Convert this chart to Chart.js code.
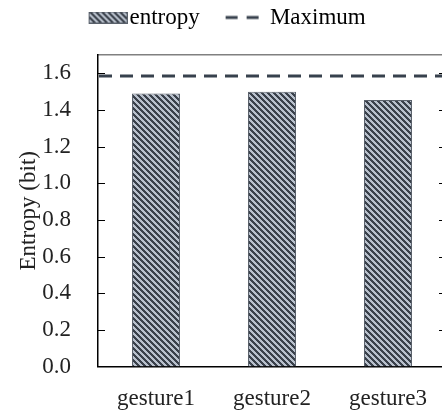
<!DOCTYPE html>
<html>
<head>
<meta charset="utf-8">
<script src="https://cdn.jsdelivr.net/npm/chart.js@4"></script>
<style>
  html, body { margin: 0; padding: 0; background: #fff; overflow: hidden; }
</style>
</head>
<body>
<canvas id="entropyChart" width="460" height="412"></canvas>
<script>
const gestures = ['gesture1', 'gesture2', 'gesture3'];
const entropy = [1.49, 1.50, 1.455];
const maxEntropy = [1.585, 1.585, 1.585];
const yTicks = [0, 0.2, 0.4, 0.6, 0.8, 1.0, 1.2, 1.4, 1.6];

const ctx = document.getElementById('entropyChart').getContext('2d');
Chart.defaults.font.family = '"Liberation Serif", "Times New Roman", serif';
Chart.defaults.font.size = 23;
Chart.defaults.color = '#222';

// diagonal hatch used for bars and legend box
function hatchTile() {
  const c = document.createElement('canvas');
  c.width = 6; c.height = 6;
  const g = c.getContext('2d');
  g.fillStyle = '#b8c0cc';
  g.fillRect(0, 0, 6, 6);
  g.fillStyle = '#3a414b';
  for (let y = 0; y < 6; y++) {
    for (let x = 0; x < 6; x++) {
      if (((x - y) % 6 + 6) % 6 < 3) g.fillRect(x, y, 1, 1);
    }
  }
  return c;
}
const tile = hatchTile();
const hatch = ctx.createPattern(tile, 'repeat');

// legend icons, centred on the legend box
function entropyIcon() {
  const c = document.createElement('canvas');
  c.width = 57; c.height = 12;
  const g = c.getContext('2d');
  g.fillStyle = g.createPattern(tile, 'repeat');
  g.fillRect(18, 0, 39, 12);
  g.strokeStyle = '#5a616b';
  g.lineWidth = 1;
  g.strokeRect(18.5, 0.5, 38, 11);
  return c;
}
function maxIcon() {
  const c = document.createElement('canvas');
  c.width = 40; c.height = 12;
  const g = c.getContext('2d');
  g.strokeStyle = '#37414d';
  g.lineWidth = 3;
  g.beginPath();
  g.moveTo(6, 6); g.lineTo(18, 6);
  g.moveTo(27, 6); g.lineTo(39, 6);
  g.stroke();
  return c;
}
const legendIcons = [entropyIcon(), maxIcon()];

const maxLine = {
  id: 'maxLine',
  afterDatasetsDraw(chart) {
    const ds = chart.data.datasets[1];
    const y = chart.scales.y.getPixelForValue(ds.data[0]);
    const { left, right } = chart.chartArea;
    const c = chart.ctx;
    c.save();
    c.strokeStyle = ds.borderColor;
    c.lineWidth = ds.borderWidth;
    c.setLineDash(ds.borderDash);
    c.beginPath();
    c.moveTo(left + 1, y);
    c.lineTo(right, y);
    c.stroke();
    c.restore();
  }
};

// short tick marks pointing into the plot, on both sides
const innerTicks = {
  id: 'innerTicks',
  afterDraw(chart) {
    const s = chart.scales.y;
    const { left, right } = chart.chartArea;
    const c = chart.ctx;
    c.save();
    c.strokeStyle = '#000';
    c.lineWidth = 1;
    c.beginPath();
    s.ticks.forEach(t => {
      if (t.value === 0) return;
      const y = Math.round(s.getPixelForValue(t.value)) + 0.5;
      c.moveTo(left, y); c.lineTo(left + 7, y);
      c.moveTo(right - 7, y); c.lineTo(right, y);
    });
    c.stroke();
    c.restore();
  }
};

const chart = new Chart(ctx, {
  data: {
    labels: gestures,
    datasets: [{
      type: 'bar',
      label: 'entropy',
      data: entropy,
      backgroundColor: hatch,
      borderColor: '#5a616b',
      borderWidth: 1,
      barPercentage: 0.414,
      categoryPercentage: 1
    }, {
      type: 'line',
      label: 'Maximum',
      data: maxEntropy,
      borderColor: '#37414d',
      borderWidth: 3,
      borderDash: [13, 8],
      showLine: false,
      pointRadius: 0
    }]
  },
  options: {
    responsive: false,
    animation: false,
    devicePixelRatio: 1,
    layout: { padding: { top: -15, right: 14, left: 0, bottom: 0 } },
    plugins: {
      tooltip: { enabled: false },
      legend: {
        position: 'top',
        labels: {
          usePointStyle: true,
          pointStyleWidth: 37.7,
          boxHeight: 12,
          padding: 21,
          generateLabels: chart => chart.data.datasets.map((ds, i) => ({
            text: ds.label,
            pointStyle: legendIcons[i],
            fillStyle: 'rgba(0,0,0,0)',
            strokeStyle: 'rgba(0,0,0,0)',
            lineWidth: 0,
            hidden: false,
            datasetIndex: i
          }))
        }
      }
    },
    scales: {
      x: {
        type: 'category',
        offset: true,
        grid: { display: false, drawTicks: false },
        border: { display: true, color: '#000', width: 1.5 },
        ticks: { padding: 19 },
        afterFit: s => { s.height = 45.5; }
      },
      xTop: {
        type: 'category',
        position: 'top',
        offset: true,
        grid: { display: true, drawOnChartArea: false, drawTicks: true, tickLength: 16, color: 'rgba(0,0,0,0)' },
        border: { display: true, color: '#808080', width: 1.5 },
        ticks: { display: false }
      },
      y: {
        min: 0,
        max: 1.7,
        afterBuildTicks: s => { s.ticks = yTicks.map(v => ({ value: v })); },
        position: 'left',
        grid: { display: false, drawTicks: false },
        border: { display: true, color: '#000', width: 1.5 },
        ticks: { padding: 27, callback: v => v.toFixed(1) },
        title: { display: true, text: 'Entropy (bit)', padding: { top: 15, bottom: 0 } },
        afterFit: s => { s.width = 98; }
      }
    }
  },
  plugins: [maxLine, innerTicks]
});
</script>
</body>
</html>
